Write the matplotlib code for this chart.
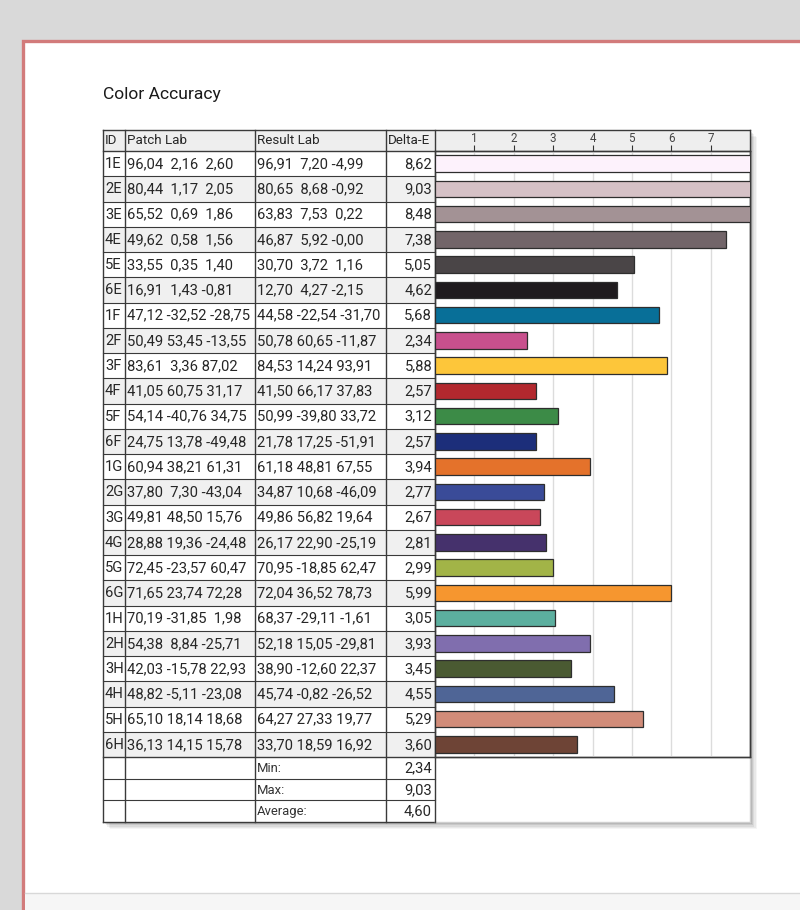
import numpy as np
import matplotlib
matplotlib.use('Agg')
import matplotlib.pyplot as plt
from matplotlib.patches import Rectangle

plt.rcParams['font.family'] = ['Roboto', 'DejaVu Sans']

# data
patch_ids = ['1E', '2E', '3E', '4E', '5E', '6E',
             '1F', '2F', '3F', '4F', '5F', '6F',
             '1G', '2G', '3G', '4G', '5G', '6G',
             '1H', '2H', '3H', '4H', '5H', '6H']

patch_lab = [(96.04, 2.16, 2.60), (80.44, 1.17, 2.05), (65.52, 0.69, 1.86),
             (49.62, 0.58, 1.56), (33.55, 0.35, 1.40), (16.91, 1.43, -0.81),
             (47.12, -32.52, -28.75), (50.49, 53.45, -13.55), (83.61, 3.36, 87.02),
             (41.05, 60.75, 31.17), (54.14, -40.76, 34.75), (24.75, 13.78, -49.48),
             (60.94, 38.21, 61.31), (37.80, 7.30, -43.04), (49.81, 48.50, 15.76),
             (28.88, 19.36, -24.48), (72.45, -23.57, 60.47), (71.65, 23.74, 72.28),
             (70.19, -31.85, 1.98), (54.38, 8.84, -25.71), (42.03, -15.78, 22.93),
             (48.82, -5.11, -23.08), (65.10, 18.14, 18.68), (36.13, 14.15, 15.78)]

result_lab = [(96.91, 7.20, -4.99), (80.65, 8.68, -0.92), (63.83, 7.53, 0.22),
              (46.87, 5.92, -0.0), (30.70, 3.72, 1.16), (12.70, 4.27, -2.15),
              (44.58, -22.54, -31.70), (50.78, 60.65, -11.87), (84.53, 14.24, 93.91),
              (41.50, 66.17, 37.83), (50.99, -39.80, 33.72), (21.78, 17.25, -51.91),
              (61.18, 48.81, 67.55), (34.87, 10.68, -46.09), (49.86, 56.82, 19.64),
              (26.17, 22.90, -25.19), (70.95, -18.85, 62.47), (72.04, 36.52, 78.73),
              (68.37, -29.11, -1.61), (52.18, 15.05, -29.81), (38.90, -12.60, 22.37),
              (45.74, -0.82, -26.52), (64.27, 27.33, 19.77), (33.70, 18.59, 16.92)]

delta_e = [8.62, 9.03, 8.48, 7.38, 5.05, 4.62,
           5.68, 2.34, 5.88, 2.57, 3.12, 2.57,
           3.94, 2.77, 2.67, 2.81, 2.99, 5.99,
           3.05, 3.93, 3.45, 4.55, 5.29, 3.60]

bar_colors = ['#fdf2fc', '#d5c1c6', '#a39295', '#726569', '#4a4547', '#1f1b1e',
              '#086f98', '#c8508d', '#fdc63a', '#b3282e', '#3c8b47', '#1c2e7a',
              '#e4722b', '#3a4b98', '#c9475a', '#45316c', '#a2b447', '#f6962f',
              '#5caf9f', '#806eae', '#4a5a32', '#4f6596', '#d18c79', '#6e4436']

summary_labels = ['Min:', 'Max:', 'Average:']
summary_values = [min(delta_e), max(delta_e), float(np.mean(delta_e))]


def fmt(v):
    return f"{v:.2f}".replace('.', ',')


def lab_str(t):
    return " ".join(fmt(v).rjust(5) for v in t)


W, H = 800, 910
fig = plt.figure(figsize=(W / 100, H / 100), dpi=100)
fig.patch.set_facecolor('#d9d9d9')

# background axes in pixel units
bg = fig.add_axes([0, 0, 1, 1])
bg.set_xlim(0, W)
bg.set_ylim(H, 0)
bg.axis('off')

# page
bg.add_patch(Rectangle((23, 41), 800, 900, facecolor='white', edgecolor='#d27b7b', lw=2.4))
bg.add_patch(Rectangle((25, 893), 780, 20, facecolor='#f6f6f6', edgecolor='none'))
bg.plot([25, 800], [893, 893], color='#d8d8d8', lw=1)

bg.text(103, 95, 'Color Accuracy', fontsize=12.6, color='#1a1a1a', va='center', ha='left')

# table layout (pixels)
col_x = [103, 125, 255, 386, 435, 750]
top, head_h, row_h = 130, 21, 25.25
data_bot = top + head_h + row_h * len(patch_ids)
sum_h = 21.7
tab_bot = data_bot + sum_h * len(summary_labels)

# drop shadow
for k, a in enumerate([0.04, 0.05, 0.06, 0.08, 0.1]):
    off = 7 - k * 1.3
    bg.add_patch(Rectangle((col_x[0] + off, top + off), col_x[-1] - col_x[0], tab_bot - top,
                           facecolor='black', alpha=a, edgecolor='none'))
bg.add_patch(Rectangle((col_x[0], top), col_x[-1] - col_x[0], tab_bot - top,
                       facecolor='white', edgecolor='none'))

# header + row backgrounds
bg.add_patch(Rectangle((col_x[0], top), col_x[-1] - col_x[0], head_h, facecolor='#eeeeee', edgecolor='none'))
for i in range(len(patch_ids)):
    if i % 2 == 1:
        y0 = top + head_h + i * row_h
        bg.add_patch(Rectangle((col_x[0], y0), col_x[4] - col_x[0], row_h,
                               facecolor='#f0f0f0', edgecolor='none'))

line_c = '#3a3a3a'
# horizontal lines
bg.plot([col_x[0], col_x[-1]], [top, top], color=line_c, lw=1)
bg.plot([col_x[0], col_x[-1]], [top + head_h, top + head_h], color=line_c, lw=1)
for i in range(1, len(patch_ids)):
    y = top + head_h + i * row_h
    bg.plot([col_x[0], col_x[4]], [y, y], color=line_c, lw=0.8)
bg.plot([col_x[0], col_x[-1]], [data_bot, data_bot], color=line_c, lw=1)
for j in range(1, len(summary_labels)):
    y = data_bot + j * sum_h
    bg.plot([col_x[0], col_x[4]], [y, y], color=line_c, lw=0.8)
bg.plot([col_x[0], col_x[4]], [tab_bot, tab_bot], color=line_c, lw=1)
bg.plot([col_x[4], col_x[5]], [tab_bot, tab_bot], color='#cfcfcf', lw=1)
# vertical lines
for x in col_x[:5]:
    bg.plot([x, x], [top, tab_bot], color=line_c, lw=1)
bg.plot([col_x[5], col_x[5]], [top, data_bot], color=line_c, lw=1)
bg.plot([col_x[5], col_x[5]], [data_bot, tab_bot], color='#cfcfcf', lw=1)

# texts
fs = 10.6
tc = '#262626'
hy = top + head_h / 2 + 0.5
for x, s in zip([col_x[0] + 2, col_x[1] + 2, col_x[2] + 2, col_x[3] + 2],
                ['ID', 'Patch Lab', 'Result Lab', 'Delta-E']):
    bg.text(x, hy, s, fontsize=9.6, color=tc, va='center', ha='left')

for i, pid in enumerate(patch_ids):
    yc = top + head_h + (i + 0.5) * row_h + 0.5
    bg.text(col_x[0] + 2, yc, pid, fontsize=fs, color=tc, va='center', ha='left')
    bg.text(col_x[1] + 2, yc, lab_str(patch_lab[i]), fontsize=fs, color=tc, va='center', ha='left')
    bg.text(col_x[2] + 2, yc, lab_str(result_lab[i]), fontsize=fs, color=tc, va='center', ha='left')
    bg.text(col_x[4] - 3, yc, fmt(delta_e[i]), fontsize=fs, color=tc, va='center', ha='right')

for j, (lbl, val) in enumerate(zip(summary_labels, summary_values)):
    yc = data_bot + (j + 0.5) * sum_h + 0.5
    bg.text(col_x[2] + 2, yc, lbl, fontsize=9.4, color='#333333', va='center', ha='left')
    bg.text(col_x[4] - 3, yc, fmt(val), fontsize=fs, color=tc, va='center', ha='right')

# bar chart axes
ax = fig.add_axes([col_x[4] / W, 1 - data_bot / H, (col_x[5] - col_x[4]) / W,
                   (data_bot - top - head_h) / H])
ax.set_facecolor('none')
ypos = np.arange(len(patch_ids))
ax.barh(ypos, delta_e, height=0.66, color=bar_colors, edgecolor='#2e2e2e', lw=0.9, zorder=3)
ax.set_xlim(0, 8)
ax.set_ylim(len(patch_ids) - 0.5, -0.5)
ax.set_xticks(range(1, 8))
ax.xaxis.tick_top()
ax.tick_params(axis='x', direction='out', length=4, width=0.8, color='#333333',
               labelsize=8.4, labelcolor='#444444', pad=0.5)
ax.set_yticks([])
ax.grid(axis='x', color='#dcdcdc', lw=1, zorder=0)
for s in ax.spines.values():
    s.set_color(line_c)
    s.set_linewidth(1)

fig.savefig('out.png', dpi=100, facecolor=fig.get_facecolor())
